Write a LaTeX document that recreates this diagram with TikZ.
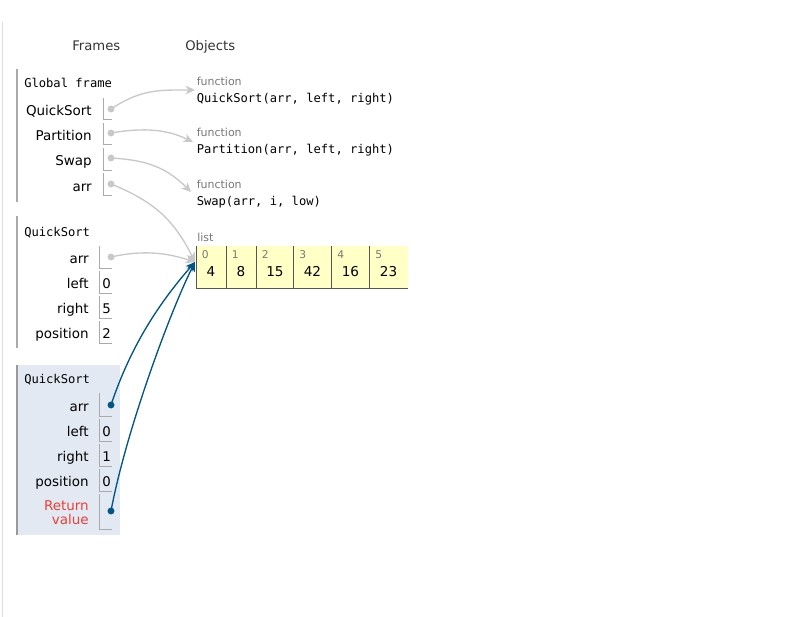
\documentclass[tikz,border=0pt]{standalone}
\usepackage{fontspec}
\setmainfont{DejaVu Sans}
\setmonofont{DejaVu Sans Mono}
\usetikzlibrary{arrows.meta}
\definecolor{ptgray}{HTML}{C8C8C8}
\definecolor{ptblue}{HTML}{005583}
\definecolor{framebg}{HTML}{E2E9F3}
\definecolor{listbg}{HTML}{FFFFC6}
\definecolor{boxline}{HTML}{AAAAAA}
\definecolor{retred}{HTML}{E93F34}
\definecolor{idxgray}{HTML}{777777}
\definecolor{outerline}{HTML}{DDDDDD}
\definecolor{celline}{HTML}{555555}
\begin{document}
\begin{tikzpicture}[x=0.75pt,y=-0.75pt,
  lbl/.style={anchor=base east,inner sep=0pt,font=\fontsize{10.1pt}{12pt}\selectfont},
  val/.style={anchor=base,inner sep=0pt,font=\fontsize{10pt}{12pt}\selectfont},
  hdr/.style={anchor=base west,inner sep=0pt,font=\ttfamily\fontsize{9.1pt}{11pt}\selectfont},
  fn/.style={anchor=base west,inner sep=0pt,text=idxgray,font=\fontsize{8.25pt}{10pt}\selectfont},
  ttl/.style={anchor=base west,inner sep=0pt,text=black!80,font=\fontsize{9.9pt}{12pt}\selectfont},
  idx/.style={anchor=base west,inner sep=0pt,text=idxgray,font=\fontsize{8pt}{10pt}\selectfont},
  lval/.style={anchor=base,inner sep=0pt,font=\fontsize{10.2pt}{12pt}\selectfont},
  cellbox/.style={fill=listbg,inner sep=0pt,anchor=north west,minimum height=31.5pt},
  celledge/.style={celline,line width=0.75pt},
  vbox/.style={boxline,line width=0.75pt},
  flank/.style={boxline,line width=1.2pt},
  gref/.style={ptgray,line width=1pt,-{Stealth[length=7pt,width=6.5pt,inset=2pt]}},
  bref/.style={ptblue,line width=1pt,-{Stealth[length=7pt,width=6.5pt,inset=2pt]}},
]
\useasboundingbox (0,0) rectangle (804,617);
% outer line
\draw[outerline,line width=0.75pt] (2,22) -- (2,617);
% headings
\node[ttl] (hf) at (72,51) {Frames};
\node[ttl] (ho) at (185,51) {Objects};

% ---------- Global frame
\draw[flank] (17,69) -- (17,202);
\node[hdr] (gf) at (24,87.5) {Global frame};
\node[lbl] (g1) at (92,116) {QuickSort};
\node[lbl] (g2) at (92,141) {Partition};
\node[lbl] (g3) at (92,166) {Swap};
\node[lbl] (g4) at (92,191) {arr};
\draw[vbox] (103,98) |- (112,120);
\draw[vbox] (103,123) |- (112,145);
\draw[vbox] (103,148) |- (112,170);
\draw[vbox] (103,173) |- (112,195);
\coordinate (d1) at (111,109);
\coordinate (d2) at (111,133);
\coordinate (d3) at (111,158);
\coordinate (d4) at (111,184);

% ---------- QuickSort frame 1
\draw[flank] (17,216) -- (17,348);
\node[hdr] (q1) at (24,236) {QuickSort};
\node[lbl] (q1a) at (89,263) {arr};
\node[lbl] (q1b) at (89,288) {left};
\node[lbl] (q1c) at (89,313) {right};
\node[lbl] (q1d) at (89,338) {position};
\draw[vbox] (99.5,246) |- (112,268);
\draw[vbox] (99.5,271) |- (112,293);
\draw[vbox] (99.5,296) |- (112,318);
\draw[vbox] (99.5,321) |- (112,343);
\node[val] (q1bv) at (106.5,288) {0};
\node[val] (q1cv) at (106.5,313) {5};
\node[val] (q1dv) at (106.5,338) {2};
\coordinate (d5) at (111,257);

% ---------- QuickSort frame 2 (active)
\fill[framebg] (17,365) rectangle (120,535);
\draw[flank,boxline!90!black] (17,365) -- (17,535);
\node[hdr] (q2) at (24,383) {QuickSort};
\node[lbl] (q2a) at (89,411) {arr};
\node[lbl] (q2b) at (89,436) {left};
\node[lbl] (q2c) at (89,461) {right};
\node[lbl] (q2d) at (89,486) {position};
\node[lbl,text=retred] (q2e) at (89,510) {Return};
\node[lbl,text=retred] (q2f) at (89,524.5) {value};
\draw[vbox] (99.5,393) |- (112,416);
\draw[vbox] (99.5,419) |- (112,441);
\draw[vbox] (99.5,444) |- (112,466);
\draw[vbox] (99.5,469) |- (112,491);
\draw[vbox] (99.5,494) |- (112,529);
\node[val] (q2bv) at (106.5,436) {0};
\node[val] (q2cv) at (106.5,461) {1};
\node[val] (q2dv) at (106.5,486) {0};
\coordinate (b1) at (111,405);
\coordinate (b2) at (111,511);

% ---------- Objects
\node[fn] (o1a) at (196.5,85.5) {function};
\node[hdr] (o1b) at (196.5,102.3) {QuickSort(arr, left, right)};
\node[fn] (o2a) at (196.5,137) {function};
\node[hdr] (o2b) at (196.5,153.5) {Partition(arr, left, right)};
\node[fn] (o3a) at (196.5,189) {function};
\node[hdr] (o3b) at (196.5,205.7) {Swap(arr, i, low)};

\node[fn] (ol) at (197,241.7) {list};
\node[cellbox,minimum width=22.5pt] (c0) at (196,246) {};
\node[cellbox,minimum width=22.5pt] (c1) at (226,246) {};
\node[cellbox,minimum width=28.125pt] (c2) at (256,246) {};
\node[cellbox,minimum width=28.5pt] (c3) at (293.5,246) {};
\node[cellbox,minimum width=28.5pt] (c4) at (331.5,246) {};
\node[cellbox,minimum width=28.5pt] (c5) at (369.5,246) {};
\foreach \c in {c0,c1,c2,c3,c4,c5}{
  \draw[celledge] (\c.north west) -- (\c.south west) -- (\c.south east);
}
\foreach \i/\x/\v/\cx in {0/196/4/211, 1/226/8/241, 2/256/15/275, 3/293.5/42/312.5, 4/331.5/16/350.5, 5/369.5/23/388.5}{
  \node[idx] (i\i) at (\x+5.5,258) {\i};
  \node[lval] (v\i) at (\cx,276.7) {\v};
}

\coordinate (t1) at (195,90);
\coordinate (t2) at (193,142);
\coordinate (t3) at (191,192);
\coordinate (tl) at (195,262);

% ---------- references
\draw[gref] (d1) .. controls +(30,-20) and +(-35,0) .. (t1);
\draw[gref] (d2) .. controls +(35,-6) and +(-25,-12) .. (t2);
\draw[gref] (d3) .. controls +(35,2) and +(-25,-25) .. (t3);
\draw[gref] (d4) .. controls +(45,18) and +(-20,-40) .. (tl);
\draw[gref] (d5) .. controls +(35,-8) and +(-25,-8) .. (tl);
\draw[bref] (b1) .. controls +(20,-60) and +(-35,40) .. (tl);
\draw[bref] (b2) .. controls +(15,-80) and +(-25,50) .. (tl);

\foreach \d in {d1,d2,d3,d4,d5}{\fill[ptgray] (\d) circle (2.6pt);}
\foreach \d in {b1,b2}{\fill[ptblue] (\d) circle (2.6pt);}
\end{tikzpicture}
\end{document}
